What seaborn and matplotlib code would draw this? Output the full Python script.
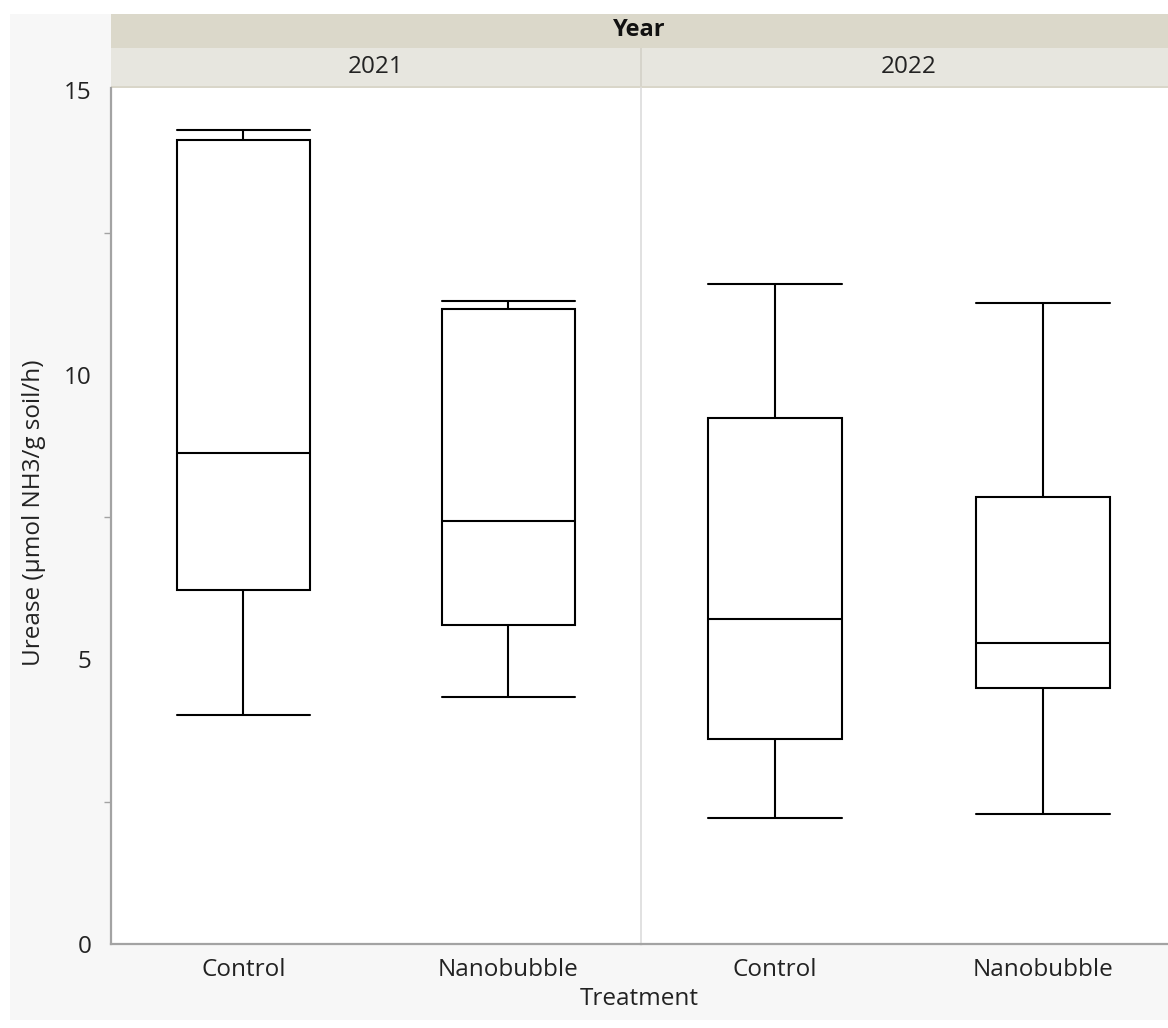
import numpy as np
import pandas as pd
import matplotlib
matplotlib.use("Agg")
import matplotlib.pyplot as plt
from matplotlib.patches import Rectangle
from matplotlib.ticker import MultipleLocator
import seaborn as sns

# Five-number summaries (min, Q1, median, Q3, max) per treatment and year
treatments = ["Control", "Nanobubble"]
years = ["2021", "2022"]
control_2021 = [4.02, 6.22, 8.62, 14.12, 14.30]
nanobubble_2021 = [4.34, 5.60, 7.43, 11.15, 11.29]
control_2022 = [2.21, 3.60, 5.71, 9.24, 11.59]
nanobubble_2022 = [2.28, 4.50, 5.29, 7.85, 11.26]
y_ticks = [0, 5, 10, 15]

rows = []
for year, groups in zip(years, [(control_2021, nanobubble_2021),
                                (control_2022, nanobubble_2022)]):
    for trt, vals in zip(treatments, groups):
        for v in vals:
            rows.append({"Year": year, "Treatment": trt, "Urease": v})
df = pd.DataFrame(rows)

sns.set_theme(style="white")
plt.rcParams["font.family"] = ["Open Sans", "DejaVu Sans"]

W, H = 1168, 1028
fig = plt.figure(figsize=(W / 100, H / 100), dpi=100, facecolor="white")


def fx(x):
    return x / W


def fy(y):
    return 1 - y / H


def rect(x0, y0, x1, y1, color, z=0):
    fig.add_artist(Rectangle((fx(x0), fy(y1)), fx(x1) - fx(x0), fy(y0) - fy(y1),
                             transform=fig.transFigure, facecolor=color,
                             edgecolor="none", zorder=z))


# outer panel background and header bands
rect(10, 14, W, 1020, "#f7f7f7", z=-5)
rect(111, 14, W, 48, "#dbd8ca", z=-4)
rect(111, 48, W, 86, "#e7e6df", z=-4)
rect(111, 86, W, 88, "#d9d6c9", z=-4)
rect(640, 48, 642, 86, "#d6d4cb", z=-3)

fs = 17.5
fig.text(fx(639), fy(30), "Year", ha="center", va="center",
         fontsize=17, fontweight="bold", color="#111111")

text_color = "#222222"
spine_color = "#a3a3a3"
panels = [(111, 641), (641, 1177)]
y_top, y_bot = 88, 944

for i, (year, (x0, x1)) in enumerate(zip(years, panels)):
    ax = fig.add_axes([fx(x0), fy(y_bot), fx(x1) - fx(x0), fy(y_top) - fy(y_bot)])
    ax.set_facecolor("white")
    sub = df[df["Year"] == year]
    sns.boxplot(data=sub, x="Treatment", y="Urease", order=treatments, ax=ax,
                color="white", linecolor="black", linewidth=1.5, width=0.5,
                whis=(0, 100), capwidths=0.5, showfliers=False)
    ax.set_xlim(-0.5, 1.5)
    ax.set_ylim(0, 15.04)
    ax.set_xlabel("")
    ax.set_ylabel("")
    for s in ["top", "right"]:
        ax.spines[s].set_visible(False)
    ax.spines["bottom"].set_color(spine_color)
    ax.spines["bottom"].set_linewidth(1.6)
    ax.tick_params(axis="x", length=0, pad=10, labelsize=fs, labelcolor=text_color)
    if i == 0:
        ax.spines["left"].set_color(spine_color)
        ax.spines["left"].set_linewidth(1.6)
        ax.set_yticks(y_ticks)
        ax.yaxis.set_minor_locator(MultipleLocator(2.5))
        ax.tick_params(axis="y", which="major", length=10, width=1.2,
                       color=spine_color, labelsize=fs, labelcolor=text_color, pad=4)
        ax.tick_params(axis="y", which="minor", length=5, width=1.0,
                       color=spine_color, left=True)
    else:
        ax.spines["left"].set_color("#dcdcdc")
        ax.spines["left"].set_linewidth(1.2)
        ax.set_yticks([])
    fig.text(fx((x0 + x1) / 2), fy(67), year, ha="center", va="center",
             fontsize=fs, color=text_color)

fig.text(fx(639), fy(999), "Treatment", ha="center", va="center",
         fontsize=fs, color=text_color)
fig.text(fx(34), fy(513), "Urease (µmol NH3/g soil/h)", ha="center", va="center",
         rotation=90, fontsize=fs, color=text_color)

fig.savefig("out.png", dpi=100, facecolor=fig.get_facecolor())
